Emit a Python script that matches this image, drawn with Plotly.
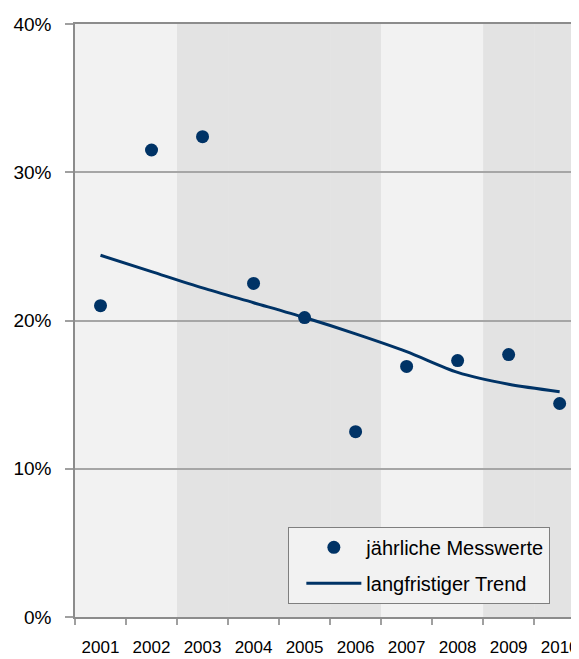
import plotly.graph_objects as go

years = ["2001", "2002", "2003", "2004", "2005", "2006", "2007", "2008", "2009", "2010"]
messwerte = [21.0, 31.5, 32.4, 22.5, 20.2, 12.5, 16.9, 17.3, 17.7, 14.4]
trend = [24.4, 23.3, 22.2, 21.2, 20.2, 19.1, 17.9, 16.5, 15.7, 15.2]
band_shade = ["light", "light", "dark", "dark", "dark", "dark", "light", "light", "dark", "dark"]
y_ticks = [0, 10, 20, 30, 40]

NAVY = "#003366"
FONT = "Liberation Sans, Arial, sans-serif"
shade_colors = {"light": "#F2F2F2", "dark": "#E3E3E3"}

fig = go.Figure()
fig.add_trace(go.Scatter(
    x=years, y=messwerte, mode="markers", name="jährliche Messwerte",
    marker=dict(size=13, color=NAVY), legendgroup="a",
))
fig.add_trace(go.Scatter(
    x=years, y=trend, mode="lines", name="langfristiger Trend",
    line=dict(color=NAVY, width=3, shape="spline", smoothing=0.8), legendgroup="b",
))

shapes = []
for i, s in enumerate(band_shade):
    shapes.append(dict(type="rect", xref="x", yref="paper", x0=i - 0.5, x1=i + 0.5, y0=0, y1=1,
                       fillcolor=shade_colors[s], line=dict(width=0), layer="between"))

# page body has an 8px default margin, so the figure is sized to fill the rest of the window
fig.update_layout(
    width=571, height=651,
    margin=dict(l=67, r=0, t=16, b=42),
    paper_bgcolor="white", plot_bgcolor="#F2F2F2",
    font=dict(family=FONT, color="#000000"),
    shapes=shapes,
    showlegend=True,
    legend=dict(
        x=0.425, y=0.152, xanchor="left", yanchor="top",
        bgcolor="#F2F2F2", bordercolor="#7F7F7F", borderwidth=1,
        font=dict(size=20, family=FONT, color="#000000"),
        tracegroupgap=7, itemwidth=55, indentation=12,
    ),
    xaxis=dict(
        type="category", range=[-0.5, 9.34], tickson="boundaries",
        ticks="outside", ticklen=6, tickcolor="#A0A0A0", tickwidth=1.5,
        showline=True, linecolor="#8C8C8C", linewidth=1.5, mirror=True,
        showgrid=False, tickfont=dict(size=17), ticklabelstandoff=14,
    ),
    yaxis=dict(
        range=[0, 40], tickvals=y_ticks, ticktext=[f"{v}%" for v in y_ticks],
        ticks="outside", ticklen=8, tickcolor="#A0A0A0", tickwidth=1.5,
        showline=True, linecolor="#8C8C8C", linewidth=1.5,
        showgrid=True, gridcolor="#A6A6A6", gridwidth=1.5,
        zeroline=False, tickfont=dict(size=19), ticklabelstandoff=10,
    ),
)

fig.write_html("out.html")
